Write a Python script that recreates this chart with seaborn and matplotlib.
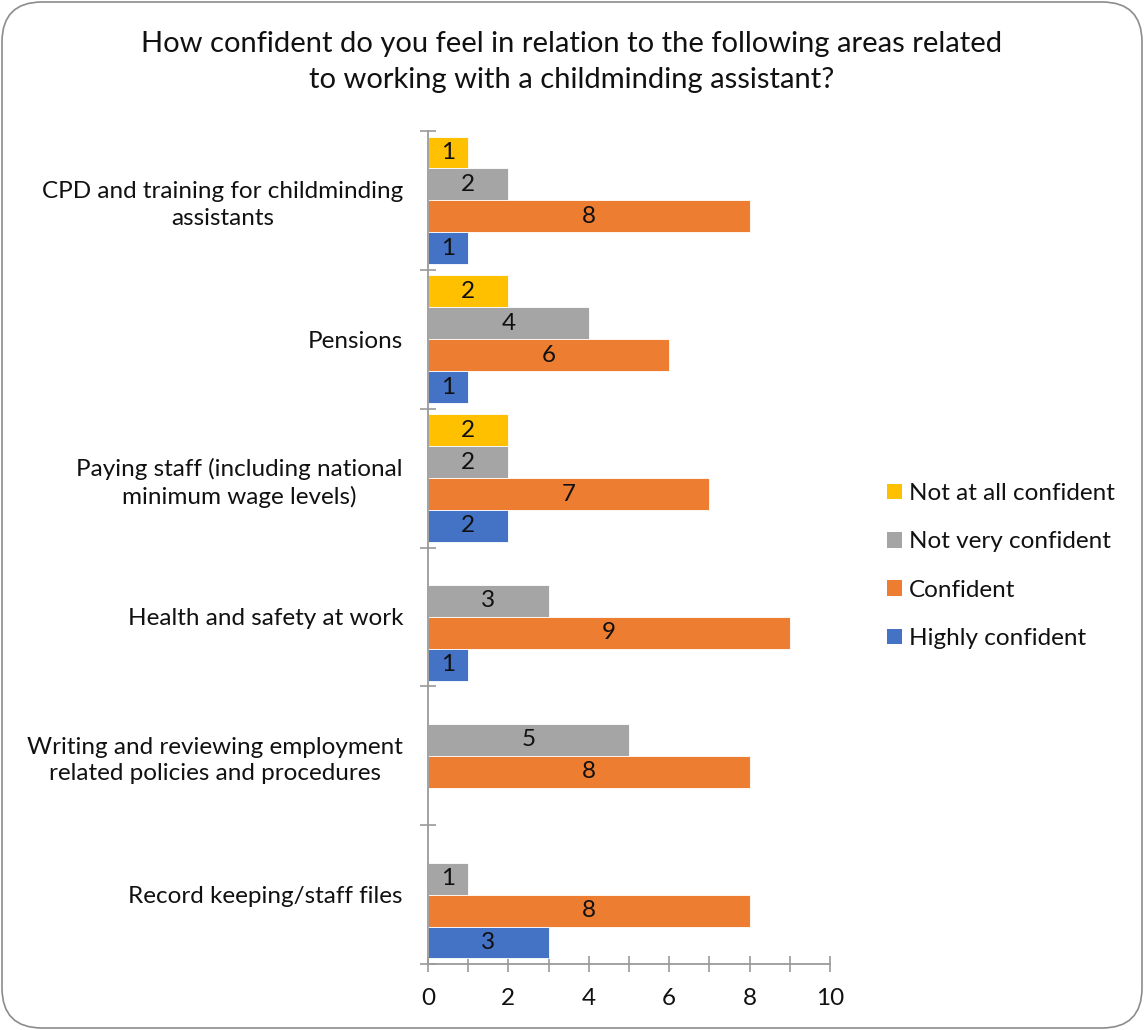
import matplotlib
matplotlib.use("Agg")
import matplotlib.pyplot as plt
from matplotlib.patches import FancyBboxPatch, Patch
from matplotlib.ticker import MultipleLocator, FixedLocator
import numpy as np
import pandas as pd
import seaborn as sns

# ---- data ----
categories = [
    "CPD and training for childminding\nassistants",
    "Pensions",
    "Paying staff (including national\nminimum wage levels)",
    "Health and safety at work",
    "Writing and reviewing employment\nrelated policies and procedures",
    "Record keeping/staff files",
]
series = ["Not at all confident", "Not very confident", "Confident", "Highly confident"]
not_at_all = [1, 2, 2, np.nan, np.nan, np.nan]
not_very = [2, 4, 2, 3, 5, 1]
confident = [8, 6, 7, 9, 8, 8]
highly = [1, 1, 2, 1, np.nan, 3]
colors = ["#FFC000", "#A5A5A5", "#ED7D31", "#4472C4"]
title = ("How confident do you feel in relation to the following areas related\n"
         "to working with a childminding assistant?")

rows = []
for s, vals in zip(series, [not_at_all, not_very, confident, highly]):
    for c, v in zip(categories, vals):
        rows.append({"category": c, "series": s, "value": v})
df = pd.DataFrame(rows).dropna()

sns.set_theme(style="white")
plt.rcParams["font.family"] = ["Lato", "DejaVu Sans"]

FS = 17.5
fig = plt.figure(figsize=(11.44, 10.30), dpi=100)
ax = fig.add_axes([428 / 1144, 1 - 964 / 1030, (830 - 428) / 1144, (964 - 131) / 1030])

sns.barplot(data=df, y="category", x="value", hue="series", order=categories,
            hue_order=series, palette=colors, orient="h", width=0.92, gap=0,
            saturation=1, edgecolor="white", linewidth=0.6, ax=ax, legend=False,
            errorbar=None)

for cont in ax.containers:
    ax.bar_label(cont, labels=[f"{v:g}" for v in cont.datavalues],
                 label_type="center", fontsize=FS, color="#111111")

ax.set_xlim(0, 10)
ax.set_ylim(len(categories) - 0.5, -0.5)
ax.set_xlabel("")
ax.set_ylabel("")

axis_col = "#9a9a9a"
for sp in ["top", "right"]:
    ax.spines[sp].set_visible(False)
for sp in ["left", "bottom"]:
    ax.spines[sp].set_color(axis_col)
    ax.spines[sp].set_linewidth(1.3)

ax.xaxis.set_major_locator(MultipleLocator(2))
ax.xaxis.set_minor_locator(MultipleLocator(1))
ax.tick_params(axis="x", which="both", direction="inout", length=11, width=1.2,
               color=axis_col, bottom=True, labelsize=FS, labelcolor="#111111", pad=12)

ax.yaxis.set_minor_locator(FixedLocator(np.arange(-0.5, len(categories), 1.0)))
ax.tick_params(axis="y", which="minor", direction="inout", length=11, width=1.2,
               color=axis_col, left=True)
ax.tick_params(axis="y", which="major", length=0, labelsize=FS, labelcolor="#111111", pad=18)
for lab in ax.get_yticklabels():
    lab.set_multialignment("center")
    lab.set_linespacing(1.33)

fig.text(0.5, 1 - 62 / 1030, title, ha="center", va="center", fontsize=21,
         color="#111111", linespacing=1.45)

handles = [Patch(facecolor=c, edgecolor="none", label=s) for s, c in zip(series, colors)]
fig.legend(handles=handles, loc="center left", bbox_to_anchor=(887 / 1144, 1 - 566 / 1030),
           frameon=False, fontsize=FS, handlelength=0.6, handleheight=0.6,
           handletextpad=0.3, labelspacing=1.12, borderpad=0, borderaxespad=0,
           labelcolor="#111111")

border = FancyBboxPatch((2 / 1144, 2 / 1030), 1 - 4 / 1144, 1 - 4 / 1030,
                        boxstyle="round,pad=0,rounding_size=0.035",
                        transform=fig.transFigure, facecolor="none",
                        edgecolor="#8c8c8c", linewidth=1.2, mutation_aspect=1144 / 1030)
fig.patches.append(border)

fig.savefig("out.png", dpi=100)
